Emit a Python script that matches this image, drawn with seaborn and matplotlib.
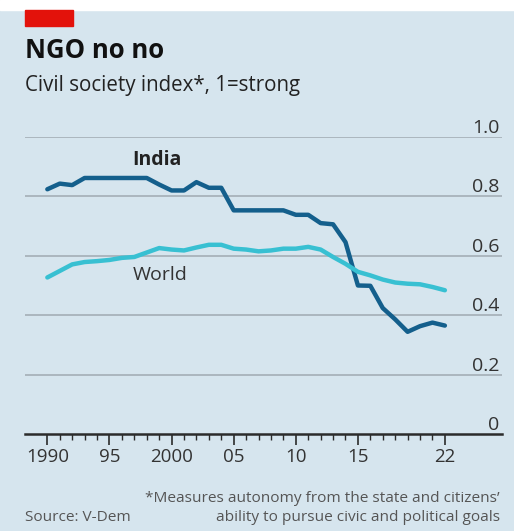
import pandas as pd
import matplotlib.pyplot as plt
import matplotlib.patches as patches
import seaborn as sns

# data
years = list(range(1990, 2023))
india = [0.824, 0.843, 0.838, 0.862, 0.862, 0.862, 0.862, 0.862, 0.862, 0.840,
         0.820, 0.820, 0.848, 0.829, 0.829, 0.753, 0.753, 0.753, 0.753, 0.753,
         0.738, 0.738, 0.710, 0.706, 0.646, 0.500, 0.499, 0.424, 0.386, 0.344,
         0.363, 0.375, 0.365]
world = [0.527, 0.549, 0.571, 0.579, 0.582, 0.586, 0.593, 0.596, 0.611, 0.626,
         0.621, 0.618, 0.628, 0.637, 0.637, 0.624, 0.621, 0.615, 0.618, 0.624,
         0.624, 0.630, 0.621, 0.596, 0.573, 0.546, 0.534, 0.520, 0.510, 0.506,
         0.504, 0.495, 0.484]
x_ticks = [1990, 1995, 2000, 2005, 2010, 2015, 2022]
x_labels = ['1990', '95', '2000', '05', '10', '15', '22']
y_ticks = [0, 0.2, 0.4, 0.6, 0.8, 1.0]
y_labels = ['0', '0.2', '0.4', '0.6', '0.8', '1.0']

df = pd.DataFrame({
    'year': years * 2,
    'value': india + world,
    'series': ['India'] * len(years) + ['World'] * len(years),
})

bg = '#d6e5ee'
sns.set_theme(style='white')
plt.rcParams['font.family'] = ['Open Sans', 'DejaVu Sans']

fig = plt.figure(figsize=(5.14, 5.31), dpi=100)
fig.patch.set_facecolor(bg)
ax = fig.add_axes([0.0486, 0.1827, 0.9281, 0.5593])
ax.set_facecolor(bg)

# white strip on top and red tag
fig.patches.append(patches.Rectangle((0, 1 - 10 / 531), 1, 10 / 531, transform=fig.transFigure,
                                     color='white', zorder=0))
fig.patches.append(patches.Rectangle((25 / 514, 1 - 26 / 531), 48 / 514, 16 / 531,
                                     transform=fig.transFigure, color='#e3120b', zorder=1))

# gridlines
for v in y_ticks[1:]:
    ax.axhline(v, color='#a8b3ba', lw=1.3, zorder=1)

sns.lineplot(data=df, x='year', y='value', hue='series',
             palette={'India': '#145f8c', 'World': '#38c0d2'},
             lw=3.2, legend=False, ax=ax, zorder=3)

ax.set_xlim(1988.2, 2026.6)
ax.set_ylim(0, 1.0)
for s in ['top', 'right', 'left']:
    ax.spines[s].set_visible(False)
ax.spines['bottom'].set_color('#2b2b2b')
ax.spines['bottom'].set_linewidth(1.8)
ax.set_xlabel('')
ax.set_ylabel('')

ax.set_xticks(x_ticks)
ax.set_xticklabels(x_labels)
ax.set_xticks(years, minor=True)
ax.tick_params(axis='x', which='major', direction='out', length=8, width=1.2,
               color='#2b2b2b', labelsize=13.5, labelcolor='#333333', pad=2, bottom=True)
ax.tick_params(axis='x', which='minor', direction='out', length=4.5, width=1.0,
               color='#2b2b2b', bottom=True)

ax.yaxis.tick_right()
ax.set_yticks(y_ticks)
ax.set_yticklabels(y_labels)
ax.tick_params(axis='y', length=0, labelsize=14, labelcolor='#333333', pad=-2)
for lab in ax.get_yticklabels():
    lab.set_horizontalalignment('right')
    lab.set_verticalalignment('bottom')

ax.text(1998.8, 0.921, 'India', ha='center', va='center', fontsize=14,
        fontweight='bold', color='#222222')
ax.text(1999.1, 0.534, 'World', ha='center', va='center', fontsize=14,
        color='#333333')

fig.text(25 / 514, 1 - 58 / 531, 'NGO no no', fontsize=18.5, fontweight='bold',
         color='#111111', ha='left', va='baseline')
fig.text(25 / 514, 1 - 91 / 531, 'Civil society index*, 1=strong', fontsize=14.8,
         color='#222222', ha='left', va='baseline')

fig.text(500 / 514, 1 - 502 / 531, '*Measures autonomy from the state and citizens\u2019',
         fontsize=11.1, color='#555555', ha='right', va='baseline')
fig.text(500 / 514, 1 - 521 / 531, 'ability to pursue civic and political goals',
         fontsize=11.1, color='#555555', ha='right', va='baseline')
fig.text(25 / 514, 1 - 521 / 531, 'Source: V-Dem', fontsize=11.1, color='#555555',
         ha='left', va='baseline')

fig.savefig('out.png', dpi=100, facecolor=bg)
